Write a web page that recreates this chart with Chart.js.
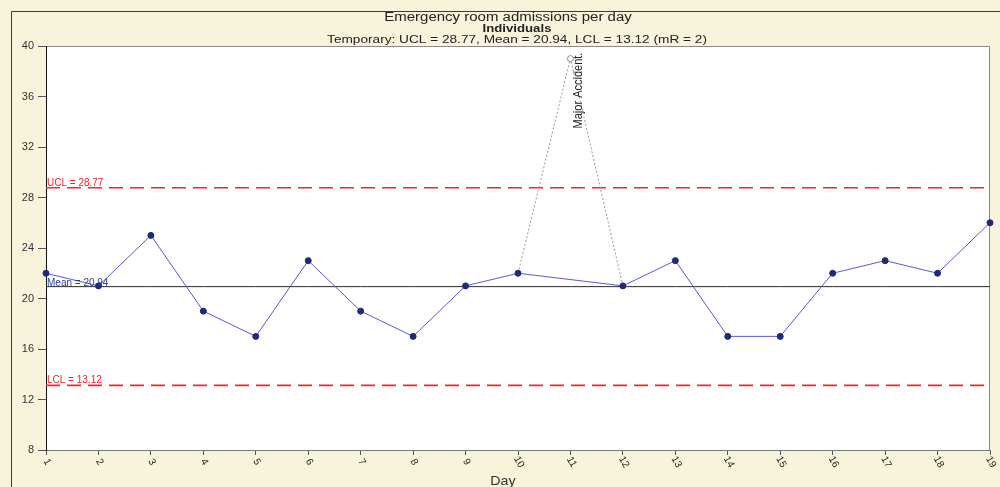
<!DOCTYPE html>
<html>
<head>
<meta charset="utf-8">
<script src="https://cdn.jsdelivr.net/npm/chart.js@4"></script>
<style>
  html, body { margin: 0; padding: 0; background: #f8f4dc; }
  #wrap { width: 1000px; height: 487px; }
</style>
</head>
<body>
<div id="wrap"><canvas id="c" width="1000" height="487"></canvas></div>
<script>
// Emergency room admissions, individuals control chart
const days = ['1','2','3','4','5','6','7','8','9','10','11','12','13','14','15','16','17','18','19'];
const admissions = [22, 21, 25, 19, 17, 23, 19, 17, 21, 22, null, 21, 23, 17, 17, 22, 23, 22, 26];
// Day 11 (major accident) is excluded from the limits and drawn apart
const excluded = [null, null, null, null, null, null, null, null, null, 22, 39, 21, null, null, null, null, null, null, null];
const UCL = 28.77;
const MEAN = 20.94;
const LCL = 13.12;
const yTicks = [8, 12, 16, 20, 24, 28, 32, 36, 40];

const FONT = '"Liberation Sans", Arial, sans-serif';
const constLine = v => days.map(() => v);

// text drawn slightly wide, like the original chart output
function wideText(ctx, text, cx, cy, font, sx) {
  ctx.save();
  ctx.font = font;
  ctx.translate(cx, cy);
  ctx.scale(sx, 1);
  ctx.textAlign = 'center';
  ctx.textBaseline = 'middle';
  ctx.fillText(text, 0, 0);
  ctx.restore();
}

const decor = {
  id: 'decor',
  beforeDraw(chart) {
    const ctx = chart.ctx;
    const a = chart.chartArea;
    ctx.save();
    ctx.fillStyle = '#f8f4dc';
    ctx.fillRect(0, 0, chart.width, chart.height);
    ctx.fillStyle = '#ffffff';
    ctx.fillRect(a.left, a.top, a.right - a.left, a.bottom - a.top);
    // outer frame
    ctx.strokeStyle = '#3a3a3a';
    ctx.lineWidth = 1;
    ctx.beginPath();
    ctx.moveTo(11.5, chart.height);
    ctx.lineTo(11.5, 11.5);
    ctx.lineTo(chart.width, 11.5);
    ctx.stroke();
    // plot border
    ctx.strokeStyle = '#8a8a8a';
    ctx.beginPath();
    ctx.moveTo(a.left, a.top + 0.5);
    ctx.lineTo(a.right - 0.5, a.top + 0.5);
    ctx.lineTo(a.right - 0.5, a.bottom);
    ctx.stroke();
    ctx.restore();
  },
  afterDraw(chart) {
    const ctx = chart.ctx;
    const x = chart.scales.x, y = chart.scales.y;
    const a = chart.chartArea;
    ctx.save();
    // titles
    ctx.fillStyle = '#222';
    wideText(ctx, 'Emergency room admissions per day', 508, 18, '12px ' + FONT, 1.25);
    wideText(ctx, 'Individuals', 517, 29, 'bold 11px ' + FONT, 1.2);
    wideText(ctx, 'Temporary: UCL = 28.77, Mean = 20.94, LCL = 13.12 (mR = 2)', 517, 40, '11px ' + FONT, 1.24);
    // axis title
    ctx.fillStyle = '#333';
    wideText(ctx, 'Day', 503, 481, '13px ' + FONT, 1.1);
    // rotated day labels
    ctx.font = '10px ' + FONT;
    ctx.fillStyle = '#222';
    days.forEach((d, i) => {
      const px = x.getPixelForValue(i);
      ctx.save();
      ctx.translate(px + 1, a.bottom + 12);
      ctx.rotate(Math.PI / 3);
      ctx.textAlign = 'center';
      ctx.textBaseline = 'middle';
      ctx.fillText(d, 0, 0);
      ctx.restore();
    });
    // limit labels
    ctx.textAlign = 'left';
    ctx.textBaseline = 'alphabetic';
    ctx.font = '10px ' + FONT;
    ctx.fillStyle = '#e8282a';
    ctx.fillText('UCL = 28.77', a.left + 1, y.getPixelForValue(UCL) - 2);
    ctx.fillText('LCL = 13.12', a.left + 1, y.getPixelForValue(LCL) - 2);
    ctx.fillStyle = '#2a3fa8';
    ctx.fillText('Mean = 20.94', a.left + 1, y.getPixelForValue(MEAN) - 1);
    // annotation for the excluded day
    const px = x.getPixelForValue(10);
    const py = y.getPixelForValue(39);
    ctx.save();
    ctx.translate(px + 8, py - 6);
    ctx.rotate(-Math.PI / 2);
    ctx.scale(1, 1.15);
    ctx.textAlign = 'right';
    ctx.textBaseline = 'middle';
    ctx.font = '11px ' + FONT;
    ctx.fillStyle = '#222';
    ctx.fillText('Major Accident.', 0, 0);
    ctx.restore();
    ctx.restore();
  }
};

new Chart(document.getElementById('c'), {
  type: 'line',
  data: {
    labels: days,
    datasets: [
      { data: constLine(UCL), borderColor: '#f0282a', borderWidth: 1.6, borderDash: [14, 7], pointRadius: 0, order: 5 },
      { data: constLine(LCL), borderColor: '#f0282a', borderWidth: 1.6, borderDash: [14, 7], pointRadius: 0, order: 5 },
      { data: constLine(MEAN), borderColor: '#2b2b2b', borderWidth: 1, pointRadius: 0, order: 4 },
      { data: excluded, borderColor: '#9a9a9a', borderWidth: 1, borderDash: [2, 2], spanGaps: false,
        pointRadius: excluded.map((v, i) => i === 10 ? 3 : 0),
        pointBackgroundColor: '#ffffff', pointBorderColor: '#8a8a8a', pointBorderWidth: 1, order: 3 },
      { data: admissions, borderColor: '#5a5ad0', borderWidth: 1, spanGaps: true,
        pointRadius: 3, pointBackgroundColor: '#1c2a78', pointBorderColor: '#1c2a78', pointBorderWidth: 1, order: 1 }
    ]
  },
  options: {
    responsive: false,
    animation: false,
    devicePixelRatio: 1,
    layout: { padding: { top: 46, right: 10, left: 0, bottom: 0 } },
    plugins: { legend: { display: false }, tooltip: { enabled: false } },
    scales: {
      x: {
        offset: false,
        grid: { display: true, drawOnChartArea: false, tickLength: 5, color: '#555' },
        border: { display: true, color: '#777', width: 1 },
        ticks: { display: false },
        afterFit: s => { s.height = 37; }
      },
      y: {
        min: 8, max: 40,
        afterBuildTicks: s => { s.ticks = yTicks.map(v => ({ value: v })); },
        grid: { display: true, drawOnChartArea: false, tickLength: 8, color: '#555' },
        border: { display: true, color: '#111', width: 1 },
        ticks: { color: '#333', font: { family: FONT, size: 11 }, padding: 4 },
        afterFit: s => { s.width = 46; }
      }
    }
  },
  plugins: [decor]
});
</script>
</body>
</html>
